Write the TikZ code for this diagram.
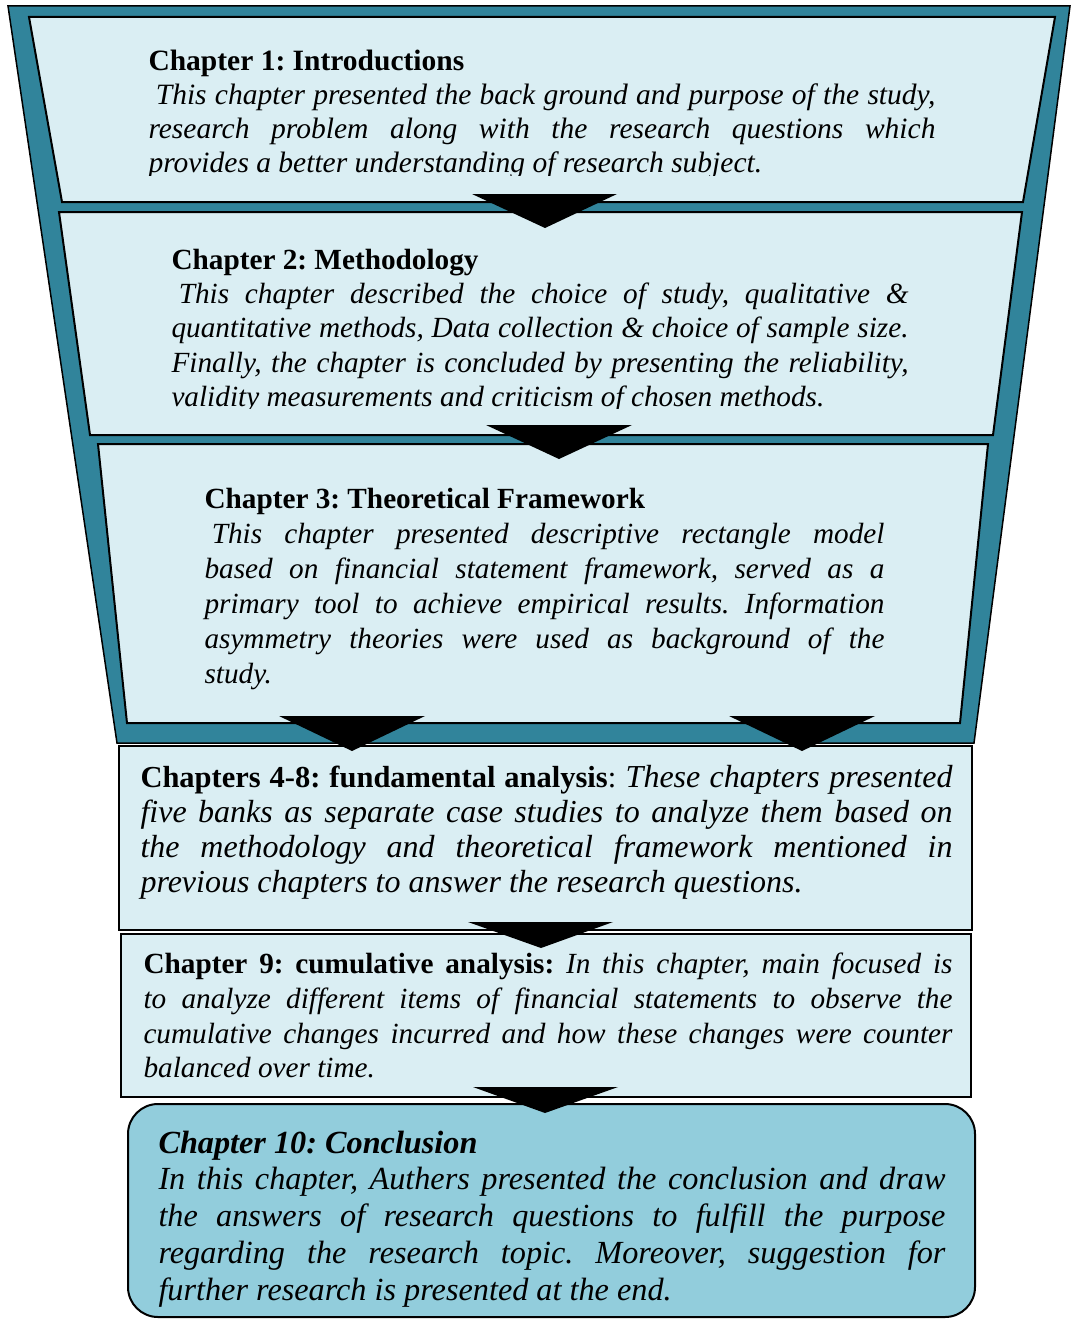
\documentclass[tikz,border=0pt]{standalone}
\usepackage{fontspec}
\setmainfont{Liberation Serif}
\frenchspacing
\definecolor{funnelteal}{HTML}{31849B}
\definecolor{stageblue}{HTML}{DAEEF3}
\definecolor{endblue}{HTML}{92CDDC}
\tikzset{
  stagebox/.style={draw=black, line width=0.8pt, fill=stageblue},
  downarrow/.style={fill=black},
  chaptext/.style={anchor=north west, inner sep=0pt, align=justify},
}
\begin{document}
\begin{tikzpicture}[x=0.4pt,y=-0.4pt]
\useasboundingbox (0,0) rectangle (1072,1319);
% funnel and stage boxes
\draw[fill=funnelteal, line width=0.6pt] (8,6) -- (1070,6) -- (974,743) -- (117,743) -- cycle;
\draw[stagebox] (29,17) -- (1055,17) -- (1023,202) -- (62,202) -- cycle;
\draw[stagebox] (59,212) -- (1022,212) -- (993,435) -- (90,435) -- cycle;
\draw[stagebox] (98,444) -- (988,444) -- (960,723) -- (127,723) -- cycle;
\draw[stagebox, line width=0.6pt] (119,746) rectangle (972,930);
\draw[stagebox, line width=0.6pt] (121,934) rectangle (971,1097);
\draw[fill=endblue, line width=0.8pt, rounded corners=12pt] (128,1104) rectangle (975,1317);
% chapter texts
\begin{scope}
\clip (140,20) rectangle (950,175);
\node[chaptext, text width=314.8pt, font=\fontsize{11.8}{13.6}\selectfont] (ch1) at (148,46) {\strut\textbf{Chapter 1: Introductions}\\
\hspace*{.25em}\textit{This chapter presented the back ground and purpose of the study,\linebreak
research problem along with the research questions which\linebreak
provides a better understanding of research subject.}};
\end{scope}
\begin{scope}
\clip (160,220) rectangle (930,408);
\node[chaptext, text width=294.8pt, font=\fontsize{11.7}{13.7}\selectfont] (ch2) at (171,245) {\strut\textbf{Chapter 2: Methodology}\\
\hspace*{.25em}\textit{This chapter described the choice of study, qualitative \&\linebreak
quantitative methods, Data collection \& choice of sample size.\linebreak
Finally, the chapter is concluded by presenting the reliability,\linebreak
validity measurements and criticism of chosen methods.}};
\end{scope}
\node[chaptext, text width=272pt, font=\fontsize{11.7}{14}\selectfont] (ch3) at (204,483.5) {\strut\textbf{Chapter 3: Theoretical Framework}\\
\hspace*{.25em}\textit{This chapter presented descriptive rectangle model\linebreak
based on financial statement framework, served as a\linebreak
primary tool to achieve empirical results. Information\linebreak
asymmetry theories were used as background of the\linebreak
study.}};
\node[chaptext, text width=324.8pt, font=\fontsize{12.8}{14}\selectfont] (ch4) at (140,762.5) {\strut{\fontsize{12.2}{14}\selectfont\textbf{Chapters 4-8: fundamental analysis}:} \textit{These chapters presented\linebreak
five banks as separate case studies to analyze them based on\linebreak
the methodology and theoretical framework mentioned in\linebreak
previous chapters to answer the research questions.}};
\node[chaptext, text width=323.6pt, font=\fontsize{11.7}{13.9}\selectfont] (ch5) at (143,948.7) {\strut\textbf{Chapter 9: cumulative analysis:} \textit{In this chapter, main focused is\linebreak
to analyze different items of financial statements to observe the\linebreak
cumulative changes incurred and how these changes were counter\linebreak
balanced over time.}};
\node[chaptext, text width=314.8pt, font=\fontsize{12.9}{14.7}\selectfont] (ch6) at (158,1127) {\strut\textbf{\textit{Chapter 10: Conclusion}}\\
\textit{In this chapter, Authers presented the conclusion and draw\linebreak
the answers of research questions to fulfill the purpose\linebreak
regarding the research topic. Moreover, suggestion for\linebreak
further research is presented at the end.}};
% arrows between stages
\fill[downarrow] (472,194) -- (617,194) -- (545,228) -- cycle;
\fill[downarrow] (486,425) -- (632,425) -- (559,459) -- cycle;
\fill[downarrow] (279,716) -- (425,716) -- (352,751) -- cycle;
\fill[downarrow] (729,716) -- (875,716) -- (802,751) -- cycle;
\fill[downarrow] (468,922) -- (613,922) -- (541,948) -- cycle;
\fill[downarrow] (473,1087) -- (618,1087) -- (545,1113) -- cycle;
\end{tikzpicture}
\end{document}
